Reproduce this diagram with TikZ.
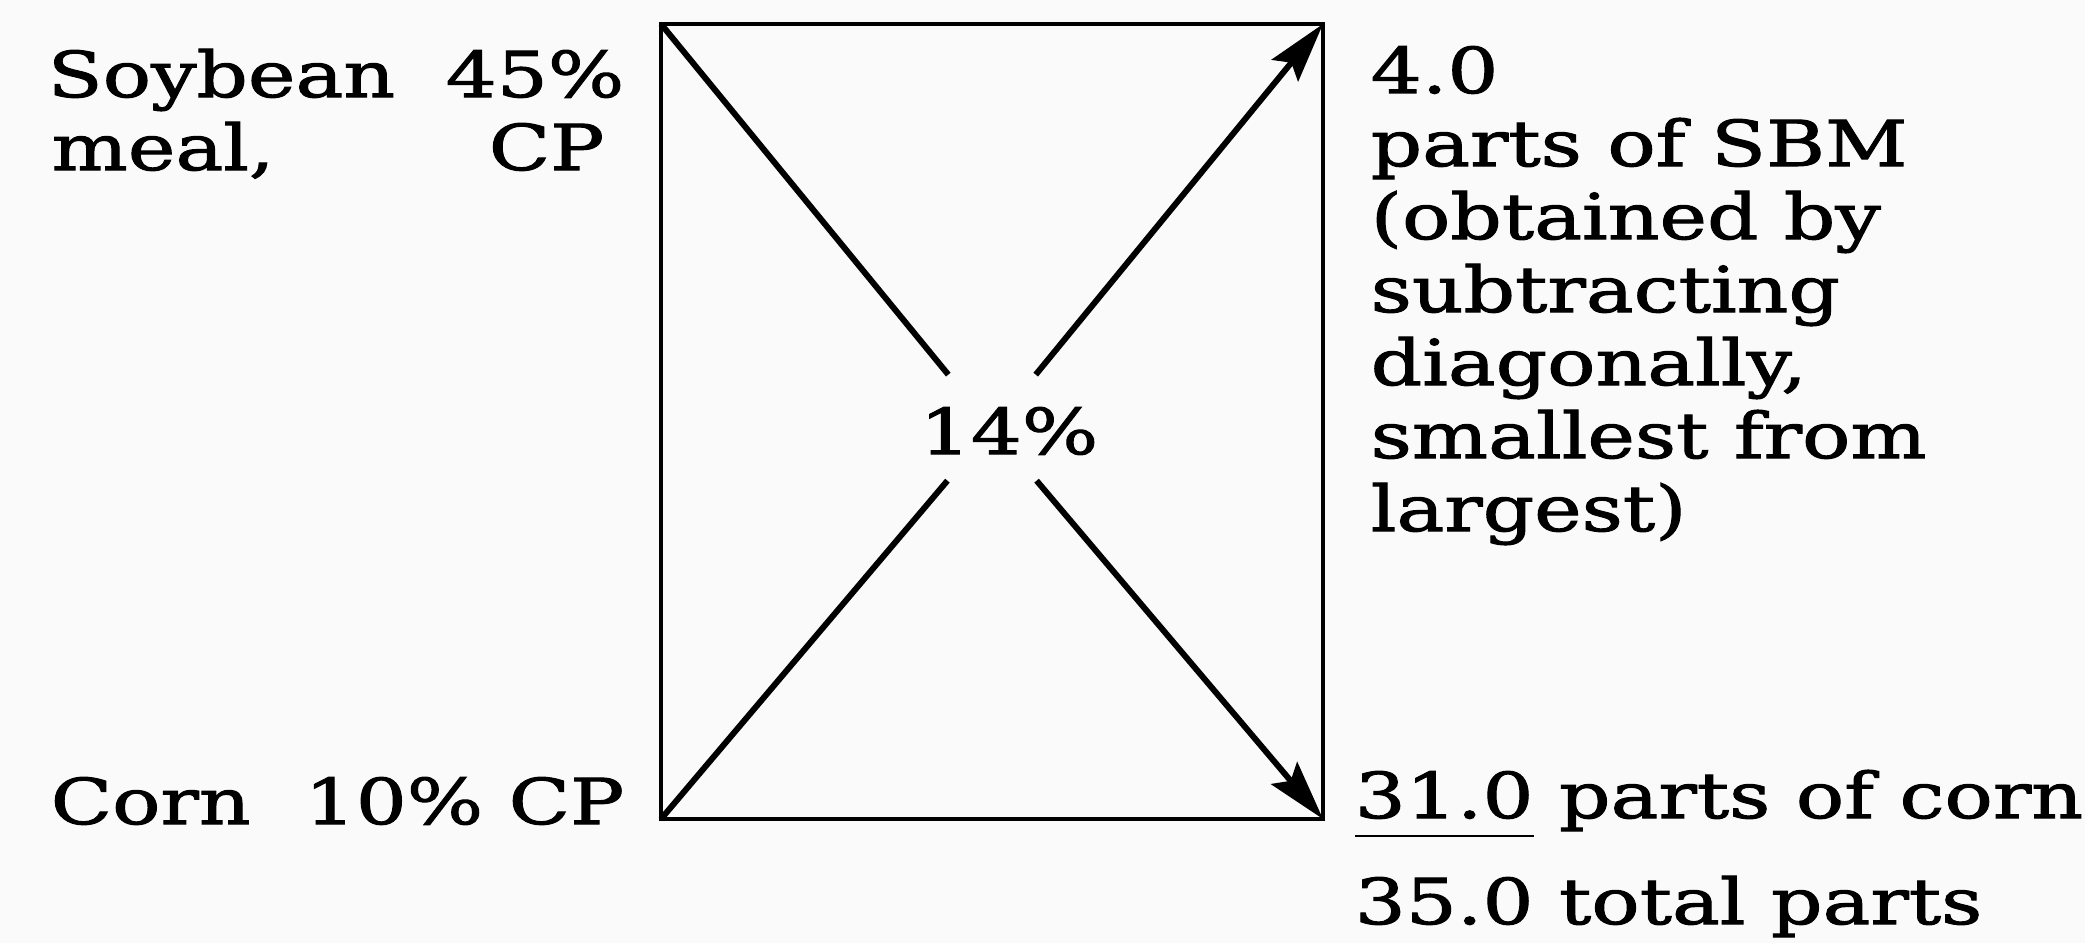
\documentclass[tikz,border=0pt]{standalone}
\usepackage{fontspec}
\setmainfont{DejaVu Serif}[FakeStretch=1.27, FakeBold=1.6]
\usepackage{tikz}
\usetikzlibrary{arrows.meta}
\tikzset{every node/.append style={font=\fontsize{18}{21}\selectfont, inner sep=0pt}}
\newcommand{\sumline}[1]{\underline{#1\vphantom{p}}}

\begin{document}
\begin{tikzpicture}[>={Stealth[length=6mm, width=3.4mm, inset=1mm]},
    box/.style={line width=1.4pt},
    diag/.style={line width=1.7pt, shorten >=0.69cm}]
    \fill[black!2] (0,0) rectangle (20.85,9.43);
    % square and crossing lines
    \coordinate (tl) at (6.61,9.19);
    \coordinate (tr) at (13.23,9.19);
    \coordinate (bl) at (6.61,1.24);
    \coordinate (br) at (13.23,1.24);
    \coordinate (x) at (9.92,5.15);
    \draw[box] (tl) -- (tr) -- (br) -- (bl) -- cycle;
    \node (pct) at (10.09,5.12) {14\%};
    \draw[diag] (tl) -- (x);
    \draw[diag] (bl) -- (x);
    \draw[diag, shorten >=0pt, shorten <=0.69cm, ->] (x) -- (tr);
    \draw[diag, shorten >=0pt, shorten <=0.69cm, ->] (x) -- (br);
    % left: feeds
    \node[anchor=base west] (soy) at (0.47,8.46) {Soybean};
    \node[anchor=base east] (soycp) at (6.25,8.46) {45\%};
    \node[anchor=base west] (meal) at (0.51,7.73) {meal,};
    \node[anchor=base east] (mealcp) at (6.05,7.73) {CP};
    \node[anchor=base west] (corn) at (0.50,1.19) {Corn};
    \node[anchor=base east] (corncp) at (6.25,1.19) {10\% CP};
    % right: parts
    \foreach \txt [count=\i] in {{4.0}, {parts of SBM}, {(obtained by}, {subtracting},
        {diagonally,}, {smallest from}, {largest)}}
        \node[anchor=base west] (sbm\i) at (13.70,9.23-0.73*\i) {\txt};
    \node[anchor=base west] (cornparts) at (13.54,1.25) {\sumline{31.0} parts of corn};
    \node[anchor=base west] (total) at (13.54,0.19) {35.0 total parts};
\end{tikzpicture}
\end{document}
